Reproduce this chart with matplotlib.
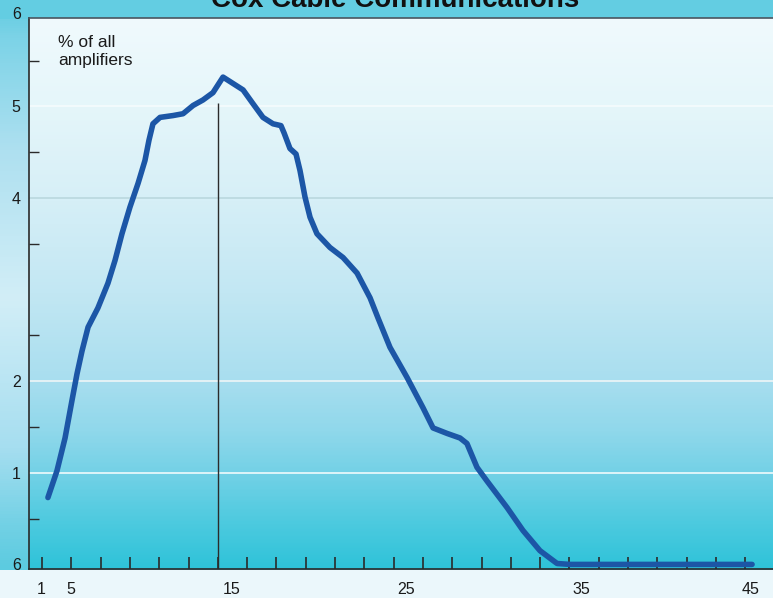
import numpy as np
import matplotlib
matplotlib.use("Agg")
import matplotlib.pyplot as plt
from matplotlib.colors import LinearSegmentedColormap, to_rgb

plt.rcParams['font.family'] = ['Liberation Sans', 'DejaVu Sans']

title = "Cox Cable Communications"
unit_label = "% of all\namplifiers"

# Distribution curve: position along the scale vs. percent of all amplifiers
level = [4.36, 4.88, 5.35, 5.75, 6.04, 6.33, 6.68, 7.25, 7.83, 8.24,
         8.64, 9.10, 9.57, 9.97, 10.20, 10.43, 10.84, 11.59, 12.17, 12.75,
         13.32, 13.90, 14.48, 15.06, 15.64, 16.21, 16.79, 17.37, 17.83, 18.01,
         18.35, 18.70, 18.93, 19.22, 19.51, 19.91, 20.66, 21.42, 22.23, 22.98,
         23.44, 24.13, 25.12, 26.04, 26.62, 27.43, 28.18, 28.58, 29.16, 29.74,
         30.90, 31.82, 32.80, 33.79, 34.54, 36.0, 38.0, 40.0, 42.0, 44.0, 45.06]
share = [0.73, 1.02, 1.38, 1.79, 2.08, 2.33, 2.59, 2.80, 3.07, 3.32,
         3.61, 3.90, 4.16, 4.41, 4.63, 4.81, 4.88, 4.90, 4.92, 5.01,
         5.07, 5.15, 5.32, 5.25, 5.18, 5.03, 4.88, 4.81, 4.79, 4.71,
         4.54, 4.48, 4.30, 4.01, 3.79, 3.61, 3.46, 3.35, 3.18, 2.91,
         2.69, 2.37, 2.04, 1.71, 1.49, 1.43, 1.38, 1.32, 1.06, 0.91,
         0.62, 0.37, 0.15, 0.01, 0.0, 0.0, 0.0, 0.0, 0.0, 0.0, 0.0]

# Reference marker under the peak
marker_level = 14.2
marker_top = 5.04

# Axis labelling
x_tick_labels = ["1", "5", "15", "25", "35", "45"]
y_tick_values = [0, 1, 2, 4, 5]
y_tick_labels = ["6", "1", "2", "4", "5"]
y_top_label = "6"
grid_values = [1, 2, 4, 5]

# ---- layout ----
W, H, DPI = 773, 598, 100
fig = plt.figure(figsize=(W / DPI, H / DPI), dpi=DPI)

# page background: cyan band on top, soft cyan strip at left, pale strip at bottom
bg = fig.add_axes([0, 0, 1, 1], zorder=-10)
bg.set_axis_off()
rows = np.linspace(0, 1, H)
left_stops = [(0.00, "#5fcbe0"), (0.06, "#7cd3e7"), (0.25, "#aee0f0"),
              (0.50, "#d2eef7"), (0.75, "#a6def0"), (0.88, "#72d1e5"),
              (0.95, "#5ccbe0"), (1.00, "#5ccbe0")]
cm_left = LinearSegmentedColormap.from_list("left", left_stops)
img = np.zeros((H, W, 3))
img[:, :, :] = cm_left(rows)[:, None, :3]
img[:19, :, :] = to_rgb("#63cde2")
img[570:, :, :] = to_rgb("#ebf7fb")
bg.imshow(img, aspect="auto", extent=(0, 1, 0, 1), interpolation="bilinear")
bg.set_xlim(0, 1)
bg.set_ylim(0, 1)

ax_left, ax_right = 29 / W, 1.0
ax_bottom, ax_top = (H - 569) / H, (H - 18) / H
ax = fig.add_axes([ax_left, ax_bottom, ax_right - ax_left, ax_top - ax_bottom])
ax.set_facecolor("none")

xlim = (3.266, 46.27)
ylim = (-0.050, 5.965)
ax.set_xlim(*xlim)
ax.set_ylim(*ylim)

# vertical gradient inside the plot area
grad_stops = [(0.00, "#2fc3d9"), (0.08, "#4ccadf"), (0.17, "#72d1e6"),
              (0.25, "#90d8eb"), (0.34, "#a8deef"), (0.50, "#c2e7f3"),
              (0.67, "#d6eff7"), (0.84, "#e5f6fa"), (1.00, "#f0fafd")]
cm_grad = LinearSegmentedColormap.from_list("grad", grad_stops)
g = np.linspace(1, 0, 400)[:, None]
ax.imshow(g, cmap=cm_grad, aspect="auto", extent=(*xlim, *ylim),
          vmin=0, vmax=1, zorder=0, interpolation="bilinear")

# faint horizontal rules
rule_colors = {1: "#e6f7fa", 2: "#e9f4f6", 4: "#bcd9e0", 5: "#f4fbfd"}
for v in grid_values:
    ax.axhline(v, color=rule_colors[v], lw=1.3, zorder=1)

# marker line and curve
ax.vlines(marker_level, ylim[0], marker_top, color="#2b2b2b", lw=1.0, zorder=2)
ax.plot(level, share, color="#1c56a6", lw=4.0, solid_joinstyle="round",
        solid_capstyle="round", zorder=3)

# spines
for side in ("left", "bottom", "top"):
    ax.spines[side].set_color("#2a2a2a")
    ax.spines[side].set_linewidth(1.2)
ax.spines["top"].set_color("#4a5560")
ax.spines["right"].set_visible(False)

# x ticks: labels without marks, plus a row of short inward ticks
px_per_unit = 17.3
label_px = [41, 71, 232, 406, 581, 751]
x_label_pos = [(p + 27.5) / px_per_unit for p in label_px]
ax.set_xticks(x_label_pos)
ax.set_xticklabels(x_tick_labels)
ax.set_xticks([(42 + 29.3 * k + 27.5) / px_per_unit for k in range(25)], minor=True)
ax.tick_params(axis="x", which="major", length=0, pad=9, labelsize=11.5,
               labelcolor="#1a1a1a")
ax.tick_params(axis="x", which="minor", direction="in", length=8.5, width=1.2,
               color="#2a2a2a")

# y ticks: labels at whole values, short inward marks at the halves
ax.set_yticks(y_tick_values)
ax.set_yticklabels(y_tick_labels)
ax.set_yticks(np.arange(0.5, 6.0, 1.0), minor=True)
ax.tick_params(axis="y", which="major", length=0, pad=6, labelsize=11.5,
               labelcolor="#1a1a1a")
ax.tick_params(axis="y", which="minor", direction="in", length=7, width=1.0,
               color="#2a2a2a")
ax.annotate(y_top_label, xy=(0, 6), xycoords=("axes fraction", "data"),
            xytext=(-6, 0), textcoords="offset points", ha="right", va="center",
            fontsize=11.5, color="#1a1a1a", annotation_clip=False)

# unit caption inside the plot
ax.text(4.94, 5.78, unit_label, fontsize=12.5, color="#1a1a1a",
        ha="left", va="top", linespacing=1.25, zorder=4)

# title, mostly beyond the top edge
fig.text(395 / W, 1 - 7 / H, title, fontsize=20, fontweight="bold",
         ha="center", va="baseline", color="#111111")

fig.savefig("out.png", dpi=DPI)
